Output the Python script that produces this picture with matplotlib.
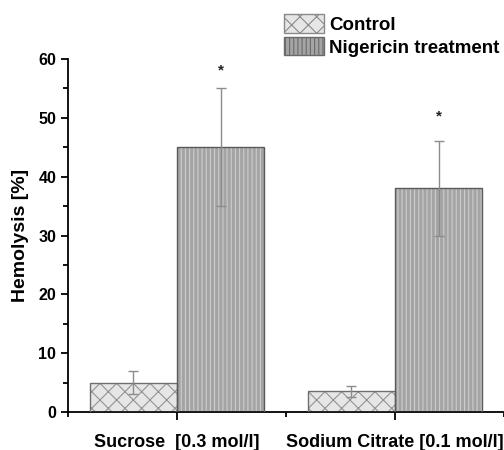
import numpy as np
import matplotlib
matplotlib.use("Agg")
import matplotlib.pyplot as plt
from matplotlib.patches import Patch
from matplotlib.ticker import MultipleLocator, FixedLocator

plt.rcParams['font.family'] = ['Liberation Sans', 'DejaVu Sans']
plt.rcParams['font.weight'] = 'bold'
plt.rcParams['hatch.linewidth'] = 0.8

categories = ["Sucrose  [0.3 mol/l]", "Sodium Citrate [0.1 mol/l]"]
control = [5.0, 3.5]
control_err = [2.0, 1.0]
nigericin = [45.0, 38.0]
nigericin_err = [10.0, 8.0]
stars = [58.0, 50.2]

x = np.array([1, 2])
w = 0.4

fig = plt.figure(figsize=(5.04, 4.5), dpi=100)
ax = fig.add_axes([0.135, 0.0844, 0.865, 0.7845])

# control bars: light grey with cross hatch
ax.bar(x - w / 2, control, w, color='#e6e6e6', edgecolor='#939393', hatch='xx', linewidth=0, zorder=2)
ax.bar(x - w / 2, control, w, fill=False, edgecolor='#6e6e6e', linewidth=1.0, zorder=3)
# nigericin bars: grey with fine light vertical stripes
ax.bar(x + w / 2, nigericin, w, color='#a4a4a4', edgecolor='#cdcdcd', hatch='||||', linewidth=0, zorder=2)
ax.bar(x + w / 2, nigericin, w, fill=False, edgecolor='#5a5a5a', linewidth=1.0, zorder=3)

ax.errorbar(x - w / 2, control, yerr=control_err, fmt='none', ecolor='#8c8c8c',
            elinewidth=1.0, capsize=3.5, capthick=1.0, zorder=4)
ax.errorbar(x + w / 2, nigericin, yerr=nigericin_err, fmt='none', ecolor='#8c8c8c',
            elinewidth=1.0, capsize=3.5, capthick=1.0, zorder=4)

for xi, s in zip(x + w / 2, stars):
    ax.text(xi, s, '*', ha='center', va='center', fontsize=11, fontweight='bold', color='#222222')

ax.set_xlim(0.5, 2.5)
ax.set_ylim(0, 60)
ax.spines['top'].set_visible(False)
ax.spines['right'].set_visible(False)
ax.spines['left'].set_linewidth(1.3)
ax.spines['bottom'].set_linewidth(1.3)

ax.set_xticks(x)
ax.set_xticklabels(categories, fontsize=13, fontweight='bold')
ax.xaxis.set_minor_locator(FixedLocator([0.5, 1.5, 2.5]))
ax.yaxis.set_major_locator(MultipleLocator(10))
ax.yaxis.set_minor_locator(MultipleLocator(5))
ax.tick_params(axis='x', which='major', direction='out', length=6, width=1.3, pad=10)
ax.tick_params(axis='x', which='minor', direction='out', length=3.5, width=1.3)
ax.tick_params(axis='y', which='major', direction='out', length=5, width=1.3, labelsize=11.5)
ax.tick_params(axis='y', which='minor', direction='out', length=3.5, width=1.3)
for lab in ax.get_yticklabels():
    lab.set_fontweight('bold')

ax.set_ylabel("Hemolysis [%]", fontsize=14, fontweight='bold', labelpad=7)

handles = [Patch(facecolor='#e6e6e6', edgecolor='#8a8a8a', hatch='xx', linewidth=1.0),
           Patch(facecolor='#a4a4a4', edgecolor='#6a6a6a', hatch='||||', linewidth=1.0)]
fig.legend(handles, ["Control", "Nigericin treatment"], loc='upper left',
           bbox_to_anchor=(0.563, 0.968), frameon=False,
           handlelength=2.15, handleheight=1.15, handletextpad=0.25,
           labelspacing=0.15, borderpad=0, borderaxespad=0,
           prop={'weight': 'bold', 'size': 13.5})

fig.savefig("out.png", dpi=100)
